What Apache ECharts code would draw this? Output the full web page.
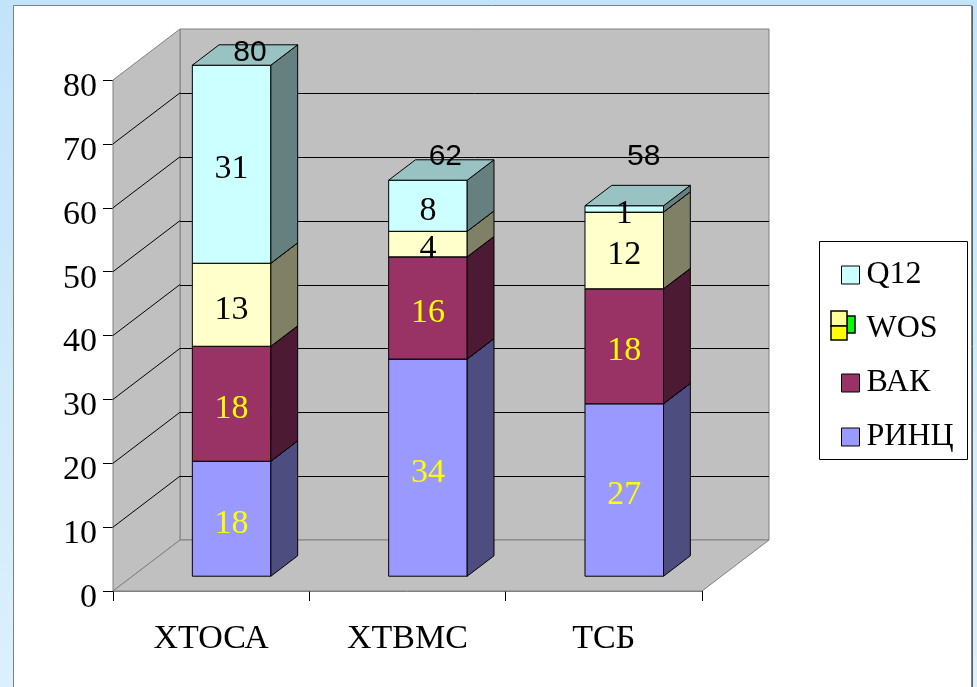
<!DOCTYPE html>
<html>
<head>
<meta charset="utf-8">
<script src="https://cdn.jsdelivr.net/npm/echarts@6/dist/echarts.min.js"></script>
<style>
  html, body { margin: 0; padding: 0; background: #ffffff; }
  #chart { width: 977px; height: 687px; }
</style>
</head>
<body>
<div id="chart"></div>
<script>
// Publications per department, stacked by index type
const categories = ['ХТОСА', 'ХТВМС', 'ТСБ'];
const seriesNames = ['РИНЦ', 'ВАК', 'WOS', 'Q12'];
const rincValues = [18, 34, 27];
const vakValues = [18, 16, 18];
const wosValues = [13, 4, 12];
const q12Values = [31, 8, 1];
const yTicks = [0, 10, 20, 30, 40, 50, 60, 70, 80];
const legendOrder = ['Q12', 'WOS', 'ВАК', 'РИНЦ'];

const valueRows = [rincValues, vakValues, wosValues, q12Values];

// face colours: front, right side, top
const frontColors = ['#9999ff', '#993366', '#ffffcc', '#ccffff'];
const sideColors = ['#4d4d80', '#4d1a33', '#808066', '#668080'];
const topColors = ['#7373bf', '#73264d', '#bfbf99', '#99c2c2'];
const labelColors = ['#ffff00', '#ffff00', '#000000', '#000000'];

// oblique projection of the depth axis (pixels for the full depth)
const DX = 67, DY = -51;
const FRONT = 0.29;   // where the bar front sits along the depth
const DEPTH = 0.40;   // bar depth as a share of the full depth
const BAR_W = 0.40;   // bar width as a share of the category band
const SERIF = '"Liberation Serif", "Times New Roman", serif';
const SANS = '"Liberation Sans", Arial, sans-serif';

// offsets of the total labels from the centre of each bar's top face
const totalLabelShift = [[5, -2], [4, -13], [6, -39]];

function px(v) { return Math.round(v) + 0.5; }

function renderWalls(params, api) {
  const cs = params.coordSys;
  const x0 = cs.x, x1 = cs.x + cs.width;
  const yT = cs.y, yB = cs.y + cs.height;
  const wall = { fill: '#c0c0c0', stroke: '#808080', lineWidth: 1 };
  const children = [
    { type: 'polygon', shape: { points: [[x0 + DX, yT + DY], [x1 + DX, yT + DY], [x1 + DX, yB + DY], [x0 + DX, yB + DY]] }, style: wall },
    { type: 'polygon', shape: { points: [[x0, yT], [x0 + DX, yT + DY], [x0 + DX, yB + DY], [x0, yB]] }, style: wall },
    { type: 'polygon', shape: { points: [[x0, yB], [x1, yB], [x1 + DX, yB + DY], [x0 + DX, yB + DY]] }, style: wall }
  ];
  yTicks.slice(1, -1).forEach(function (v) {
    const y = api.coord([0, v])[1];
    children.push({ type: 'line', shape: { x1: x0 + DX, y1: px(y + DY), x2: x1 + DX, y2: px(y + DY) }, style: { stroke: '#000', lineWidth: 1 } });
    children.push({ type: 'line', shape: { x1: x0, y1: y, x2: x0 + DX, y2: y + DY }, style: { stroke: '#000', lineWidth: 1 } });
  });
  return { type: 'group', children: children };
}

function barGeometry(api, cat, lo, hi) {
  const band = api.size([1, 0])[0];
  const w = band * BAR_W;
  const c0 = api.coord([cat, lo]);
  const c1 = api.coord([cat, hi]);
  const left = c0[0] - w / 2 + FRONT * DX + 1;
  return { left: left, right: left + w, yb: c0[1] + FRONT * DY, yt: c1[1] + FRONT * DY, ddx: DEPTH * DX, ddy: DEPTH * DY };
}

function makeBarRenderer(s) {
  return function (params, api) {
    const cat = api.value(0), base = api.value(1), val = api.value(2);
    const g = barGeometry(api, cat, base, base + val);
    const edge = { stroke: '#000', lineWidth: 1, lineJoin: 'round' };
    return {
      type: 'group',
      children: [
        { type: 'polygon', shape: { points: [[g.left, g.yb], [g.right, g.yb], [g.right, g.yt], [g.left, g.yt]] },
          style: Object.assign({ fill: frontColors[s] }, edge) },
        { type: 'polygon', shape: { points: [[g.right, g.yb], [g.right + g.ddx, g.yb + g.ddy], [g.right + g.ddx, g.yt + g.ddy], [g.right, g.yt]] },
          style: Object.assign({ fill: sideColors[s] }, edge) },
        { type: 'polygon', shape: { points: [[g.left, g.yt], [g.right, g.yt], [g.right + g.ddx, g.yt + g.ddy], [g.left + g.ddx, g.yt + g.ddy]] },
          style: Object.assign({ fill: topColors[s] }, edge) },
        { type: 'text', z2: 50, style: { text: String(val), x: (g.left + g.right) / 2, y: (g.yb + g.yt) / 2 + 5,
          fill: labelColors[s], font: '34px ' + SERIF, align: 'center', verticalAlign: 'middle' } }
      ]
    };
  };
}

function renderTotals(params, api) {
  const cat = api.value(0), total = api.value(1);
  const g = barGeometry(api, cat, 0, total);
  const sh = totalLabelShift[params.dataIndex];
  return {
    type: 'text',
    style: { text: String(total), x: (g.left + g.right + g.ddx) / 2 + sh[0], y: g.yt + g.ddy / 2 + sh[1],
      fill: '#000', font: '30px ' + SANS, align: 'center', verticalAlign: 'middle' }
  };
}

// stacked bases
const bases = valueRows.map(function (row, s) {
  return row.map(function (_, i) {
    let b = 0;
    for (let k = 0; k < s; k++) b += valueRows[k][i];
    return b;
  });
});
const totals = categories.map(function (_, i) {
  return valueRows.reduce(function (acc, row) { return acc + row[i]; }, 0);
});

const series = [{
  type: 'custom', name: 'walls', z: 1, silent: true,
  renderItem: renderWalls, data: [[0, 0]]
}];
seriesNames.forEach(function (name, s) {
  series.push({
    type: 'custom', name: name, z: 2 + s,
    itemStyle: { color: frontColors[s] },
    renderItem: makeBarRenderer(s),
    data: categories.map(function (_, i) { return [i, bases[s][i], valueRows[s][i]]; })
  });
});
series.push({
  type: 'custom', name: 'total', z: 10,
  renderItem: renderTotals,
  data: categories.map(function (_, i) { return [i, totals[i]]; })
});

const keyStroke = { stroke: '#000', lineWidth: 1.5 };

const chart = echarts.init(document.getElementById('chart'), null, { renderer: 'canvas' });
chart.setOption({
  animation: false,
  graphic: [
    { type: 'rect', z: -20, silent: true, shape: { x: 0, y: 0, width: 977, height: 687 },
      style: { fill: new echarts.graphic.LinearGradient(0, 0, 0, 1, [{ offset: 0, color: '#c2e4f8' }, { offset: 1, color: '#dbf0fc' }]) } },
    { type: 'rect', z: -19, silent: true, shape: { x: 13.5, y: 5.5, width: 958, height: 700 },
      style: { fill: '#ffffff', stroke: '#808080', lineWidth: 1 } },
    { type: 'line', z: -18, silent: true, shape: { x1: 972.5, y1: 6, x2: 972.5, y2: 687 },
      style: { stroke: '#5f5f5f', lineWidth: 1 } },
    { type: 'rect', z: 3, silent: true, shape: { x: 819.5, y: 241.5, width: 148, height: 218 },
      style: { fill: '#ffffff', stroke: '#000000', lineWidth: 1 } },
    // WOS legend key
    { type: 'rect', z: 20, silent: true, shape: { x: 847, y: 316, width: 8, height: 17 }, style: Object.assign({ fill: '#00ff00' }, keyStroke) },
    { type: 'rect', z: 21, silent: true, shape: { x: 831, y: 311, width: 16, height: 15 }, style: Object.assign({ fill: '#ffff99' }, keyStroke) },
    { type: 'rect', z: 21, silent: true, shape: { x: 831, y: 326, width: 16, height: 14 }, style: Object.assign({ fill: '#ffff00' }, keyStroke) }
  ],
  grid: { left: 113, right: 275, top: 80, bottom: 96 },
  legend: {
    orient: 'vertical', left: 836, top: 250, z: 5,
    selectedMode: false,
    itemWidth: 18, itemHeight: 18, itemGap: 14,
    icon: 'rect',
    itemStyle: { borderColor: '#000', borderWidth: 1 },
    textStyle: { fontFamily: SERIF, fontSize: 32, color: '#000', lineHeight: 30, padding: [10, 0, 0, 2] },
    data: legendOrder.map(function (n) {
      return n === 'WOS' ? { name: n, itemStyle: { color: 'rgba(0,0,0,0)', borderWidth: 0 } } : { name: n };
    })
  },
  xAxis: {
    type: 'category', data: categories,
    axisLine: { show: true, lineStyle: { color: '#808080', width: 1 } },
    axisTick: { show: true, length: 10, lineStyle: { color: '#000' } },
    axisLabel: { margin: 31, fontFamily: SERIF, fontSize: 34, color: '#000' },
    splitLine: { show: false }
  },
  yAxis: {
    type: 'value', min: 0, max: 80, interval: 10,
    axisLine: { show: true, lineStyle: { color: '#808080', width: 1 } },
    axisTick: { show: true, length: 10, lineStyle: { color: '#000' } },
    axisLabel: { margin: 16, fontFamily: SERIF, fontSize: 34, color: '#000', verticalAlign: 'top', lineHeight: 14 },
    splitLine: { show: false }
  },
  series: series
});
</script>
</body>
</html>
